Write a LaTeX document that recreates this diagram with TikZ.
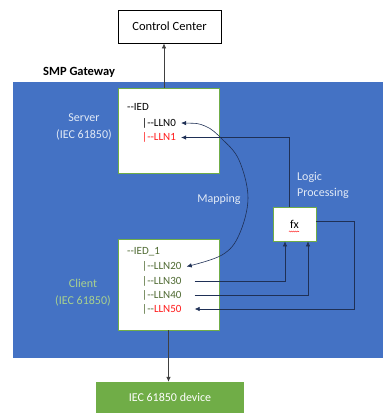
\documentclass[tikz,border=0pt]{standalone}
\usepackage{fontspec}
\setmainfont{Carlito}
\usetikzlibrary{arrows.meta,decorations.pathmorphing}

\definecolor{gwblue}{HTML}{4472C4}
\definecolor{gwgreen}{HTML}{70AD47}
\definecolor{lnkline}{HTML}{1F3056}
\definecolor{srvtext}{HTML}{E2EAF6}
\definecolor{clitext}{HTML}{A9D18E}
\definecolor{iedgreen}{HTML}{4F6A32}
\definecolor{llnred}{HTML}{FF1A1A}

\tikzset{
  box/.style={draw=gwgreen, fill=white, line width=0.8pt, inner sep=0pt},
  tree/.style={anchor=west, inner sep=1pt, font=\fontsize{11}{13}\selectfont},
  lbl/.style={align=center, font=\fontsize{12}{17}\selectfont},
  link/.style={draw=lnkline, line width=0.6pt},
  tip/.style={-{Latex[length=5pt,width=4.5pt]}}
}

\begin{document}
\begin{tikzpicture}[x=1pt,y=-1pt]
\useasboundingbox (0,0) rectangle (383,413);

% gateway area
\fill[gwblue] (13,82) rectangle (383,358);
\node[anchor=west, inner sep=0pt, font=\bfseries\fontsize{12.5}{14}\selectfont] (gwname) at (43,72) {SMP Gateway};

% outside boxes
\node[draw, line width=0.8pt, minimum width=103pt, minimum height=33pt, font=\fontsize{12.5}{14}\selectfont] (cc) at (169.5,26.5) {Control Center};
\node[fill=gwgreen, text=white, minimum width=148pt, minimum height=31pt, font=\fontsize{12}{14}\selectfont] (dev) at (170,397.5) {IEC 61850 device};

% server side
\node[box, minimum width=101pt, minimum height=85pt] (srv) at (168.5,130.5) {};
\node[tree] (ied) at (126,107) {{-}{-}IED};
\node[tree] (lln0) at (141,123) {|{-}{-}LLN0};
\node[tree, text=llnred] (lln1) at (141,137.5) {|{-}{-}LLN1};
\node[lbl, text=srvtext] (srvlbl) at (84,126.5) {Server\\(IEC 61850)};

% client side
\node[box, minimum width=101pt, minimum height=91pt] (cli) at (168.5,284.5) {};
\node[tree, text=iedgreen] (ied1) at (126,252) {{-}{-}IED\_1};
\node[tree, text=iedgreen] (lln20) at (141,266.5) {|{-}{-}LLN20};
\node[tree, text=iedgreen] (lln30) at (141,281) {|{-}{-}LLN30};
\node[tree, text=iedgreen] (lln40) at (141,295) {|{-}{-}LLN40};
\node[tree, text=iedgreen] (lln50) at (141,309) {|{-}{-}\textcolor{llnred}{LLN50}};
\node[lbl, text=clitext] (clilbl) at (83,292.5) {Client\\(IEC 61850)};

% logic block
\node[box, minimum width=43pt, minimum height=34pt, font=\fontsize{12}{14}\selectfont] (fx) at (294.5,224) {fx};
\draw[llnred, line width=0.5pt, decorate, decoration={snake, amplitude=0.5pt, segment length=2pt}] (289,231.5) -- (299,231.5);
\node[lbl, align=left, anchor=west, inner sep=0pt, font=\fontsize{12}{16}\selectfont, text=srvtext] (logic) at (297,185) {Logic\\Processing};
\node[lbl, text=srvtext] (maplbl) at (219,199) {Mapping};

% connections
\draw[tip, draw=black!75, line width=0.7pt] ([xshift=-4.5pt]srv.north) -- ([xshift=-4.5pt]srv.north |- cc.south);
\draw[tip, draw=black!75, line width=0.7pt] (cli.south) -- (cli.south |- dev.north);

\draw[link, {Latex[length=5pt,width=4.5pt]}-{Latex[length=5pt,width=4.5pt]}] plot [smooth, tension=0.6] coordinates {([xshift=4pt]lln0.east) (205,126) (222,139) (239,160) (248,198) (239,235) (222,255) ([xshift=4pt]lln20.east)};

\draw[link, tip] ([xshift=-5.5pt]fx.north) |- ([xshift=4pt]lln1.east);
\draw[link, tip] ([xshift=12pt]lln30.east) -| ([xshift=-9.5pt]fx.south);
\draw[link, tip] ([xshift=12pt]lln40.east) -| ([xshift=13.5pt]fx.south);
\coordinate (turn) at (354,309);
\draw[link, tip] ([yshift=3pt]fx.east) -| (turn) -- ([xshift=12pt]lln50.east);
\end{tikzpicture}
\end{document}
